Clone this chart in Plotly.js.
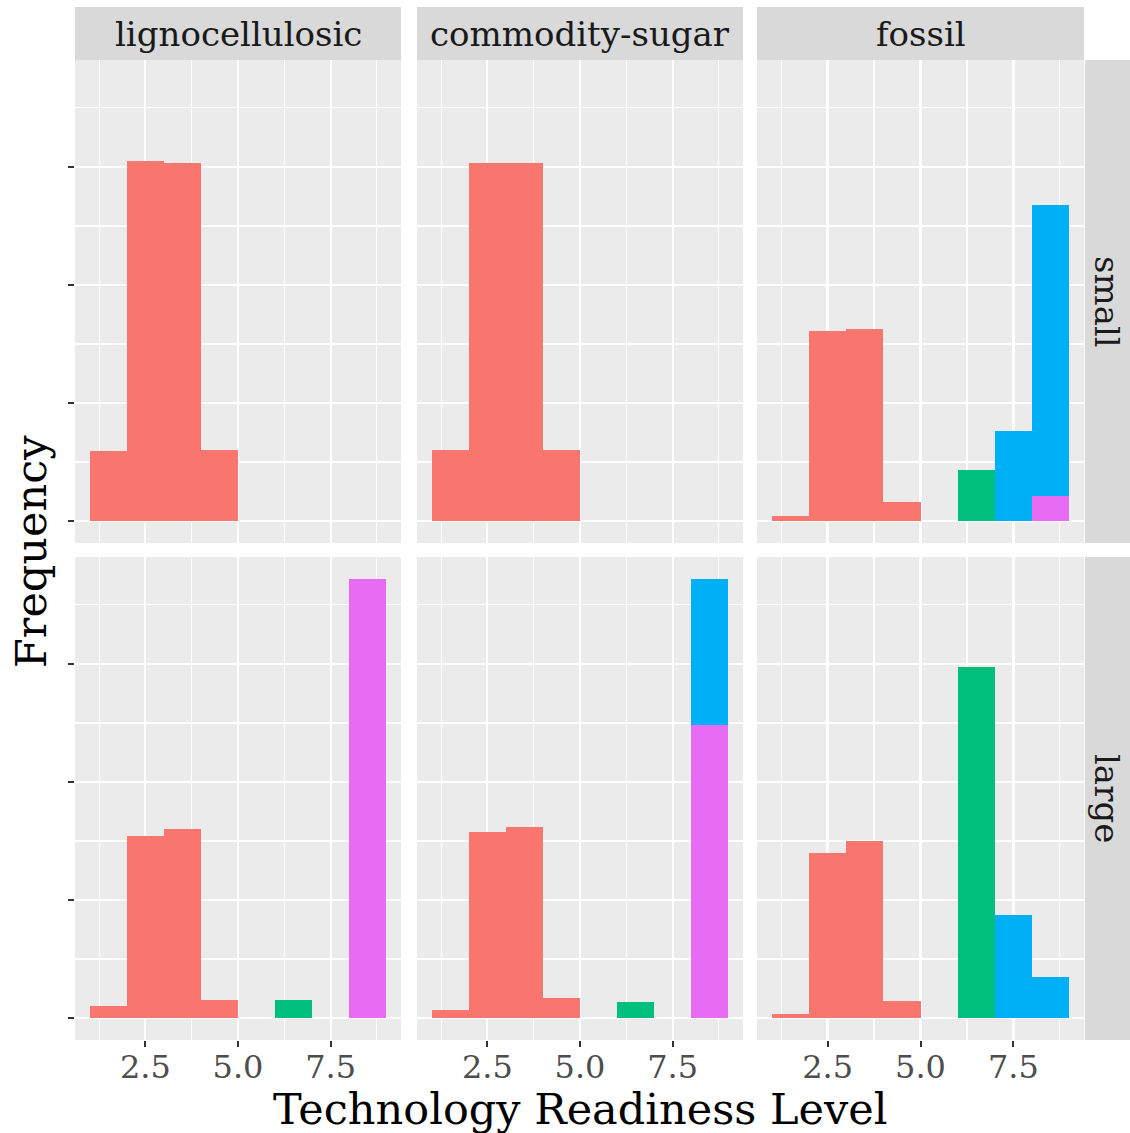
<!DOCTYPE html>
<html>
<head>
<meta charset="utf-8">
<script src="https://cdn.plot.ly/plotly-3.0.1.min.js"></script>
<style>html,body{margin:0;padding:0;background:#fff;}#chart{width:1130px;height:1133px;}</style>
</head>
<body>
<div id="chart"></div>
<script>
// ---- data ----
const binCenters = [1.5, 2.5, 3.5, 4.5, 5.5, 6.5, 7.5, 8.5];   // TRL bins of width 1
const xTicks = [2.5, 5.0, 7.5];
const xTickLabels = ['2.5', '5.0', '7.5'];
const columnLabels = ['lignocellulosic', 'commodity-sugar', 'fossil'];
const rowLabels = ['small', 'large'];
const groupNames = ['group 1', 'group 2', 'group 3', 'group 4', 'group 5'];
const groupColors = ['#F8766D', '#A3A500', '#00BF7D', '#00B0F6', '#E76BF3'];

// small scale row
const lignoSmall_g1 = [0.59, 3.05, 3.03, 0.60, 0, 0, 0, 0];
const sugarSmall_g1 = [0.60, 3.03, 3.03, 0.60, 0, 0, 0, 0];
const fossilSmall_g1 = [0.04, 1.61, 1.63, 0.16, 0, 0, 0, 0];
const fossilSmall_g3 = [0, 0, 0, 0, 0, 0.43, 0, 0];
const fossilSmall_g4 = [0, 0, 0, 0, 0, 0, 0.76, 2.47];
const fossilSmall_g5 = [0, 0, 0, 0, 0, 0, 0, 0.21];

// large scale row
const lignoLarge_g1 = [0.10, 1.54, 1.60, 0.15, 0, 0, 0, 0];
const lignoLarge_g3 = [0, 0, 0, 0, 0, 0.15, 0, 0];
const lignoLarge_g5 = [0, 0, 0, 0, 0, 0, 0, 3.72];
const sugarLarge_g1 = [0.07, 1.58, 1.62, 0.17, 0, 0, 0, 0];
const sugarLarge_g3 = [0, 0, 0, 0, 0, 0.14, 0, 0];
const sugarLarge_g4 = [0, 0, 0, 0, 0, 0, 0, 1.24];
const sugarLarge_g5 = [0, 0, 0, 0, 0, 0, 0, 2.48];
const fossilLarge_g1 = [0.035, 1.40, 1.50, 0.145, 0, 0, 0, 0];
const fossilLarge_g3 = [0, 0, 0, 0, 0, 2.97, 0, 0];
const fossilLarge_g4 = [0, 0, 0, 0, 0, 0, 0.87, 0.35];

// panel -> list of [groupIndex, values]; later groups are stacked at the bottom (ggplot order)
const panels = [
  [[0, lignoSmall_g1]],
  [[0, sugarSmall_g1]],
  [[0, fossilSmall_g1], [2, fossilSmall_g3], [3, fossilSmall_g4], [4, fossilSmall_g5]],
  [[0, lignoLarge_g1], [2, lignoLarge_g3], [4, lignoLarge_g5]],
  [[0, sugarLarge_g1], [2, sugarLarge_g3], [3, sugarLarge_g4], [4, sugarLarge_g5]],
  [[0, fossilLarge_g1], [2, fossilLarge_g3], [3, fossilLarge_g4]]
];

// ---- layout geometry ----
const W = 1130, H = 1133;
const colPx = [[75, 401], [417, 743], [757, 1084]];
const rowPx = [[60, 543], [557, 1040]];
const px = v => v / W;
const py = v => 1 - v / H;

const font = 'DejaVu Serif, serif';
const traces = [];
const layout = {
  width: W, height: H,
  margin: {l: 0, r: 0, t: 0, b: 0},
  paper_bgcolor: '#FFFFFF',
  plot_bgcolor: '#EBEBEB',
  barmode: 'stack',
  bargap: 0,
  showlegend: false,
  font: {family: font},
  shapes: [],
  annotations: []
};

for (let r = 0; r < 2; r++) {
  for (let c = 0; c < 3; c++) {
    const i = r * 3 + c;
    const n = i + 1;
    const xa = 'x' + (n === 1 ? '' : n), ya = 'y' + (n === 1 ? '' : n);
    // stack: draw later groups first so they sit at the bottom
    const list = panels[i].slice().sort((a, b) => b[0] - a[0]);
    list.forEach(([g, vals]) => {
      traces.push({
        type: 'bar', x: binCenters, y: vals, width: 1,
        name: groupNames[g], xaxis: xa, yaxis: ya,
        marker: {color: groupColors[g], line: {width: 0}},
        hoverinfo: 'x+y+name'
      });
    });
    layout['xaxis' + (n === 1 ? '' : n)] = {
      domain: [px(colPx[c][0]), px(colPx[c][1])],
      anchor: ya, range: [0.6, 9.4],
      tickmode: 'array', tickvals: xTicks, ticktext: xTickLabels,
      showticklabels: r === 1,
      ticks: r === 1 ? 'outside' : '', ticklen: 6, tickwidth: 2, tickcolor: '#333333',
      ticklabelstandoff: -7,
      tickfont: {family: font, size: 32, color: '#4D4D4D'},
      showgrid: true, gridcolor: '#FFFFFF', gridwidth: 2.2,
      minor: {tickmode: 'array', tickvals: [1.25, 3.75, 6.25, 8.75], showgrid: true, gridcolor: '#FFFFFF', gridwidth: 1.1, ticks: ''},
      zeroline: false, showline: false, fixedrange: true
    };
    layout['yaxis' + (n === 1 ? '' : n)] = {
      domain: [py(rowPx[r][1]), py(rowPx[r][0])],
      anchor: xa, range: [-0.186, 3.906],
      tickmode: 'array', tickvals: [0, 1, 2, 3],
      showticklabels: false,
      ticks: c === 0 ? 'outside' : '', ticklen: 6, tickwidth: 2, tickcolor: '#333333',
      showgrid: true, gridcolor: '#FFFFFF', gridwidth: 2.2,
      minor: {tickmode: 'array', tickvals: [0.5, 1.5, 2.5, 3.5], showgrid: true, gridcolor: '#FFFFFF', gridwidth: 1.1, ticks: ''},
      zeroline: false, showline: false, fixedrange: true
    };
  }
}

// column strips
for (let c = 0; c < 3; c++) {
  layout.shapes.push({type: 'rect', xref: 'paper', yref: 'paper', layer: 'below',
    x0: px(colPx[c][0]), x1: px(colPx[c][1]), y0: py(60), y1: py(7),
    fillcolor: '#D9D9D9', line: {width: 0}});
  layout.annotations.push({xref: 'paper', yref: 'paper', showarrow: false,
    x: px((colPx[c][0] + colPx[c][1]) / 2), y: py(33.5), xanchor: 'center', yanchor: 'middle',
    text: columnLabels[c], font: {family: font, size: 34, color: '#1A1A1A'}});
}
// row strips
for (let r = 0; r < 2; r++) {
  layout.shapes.push({type: 'rect', xref: 'paper', yref: 'paper', layer: 'below',
    x0: px(1085), x1: 1, y0: py(rowPx[r][1]), y1: py(rowPx[r][0]),
    fillcolor: '#D9D9D9', line: {width: 0}});
  layout.annotations.push({xref: 'paper', yref: 'paper', showarrow: false,
    x: px(1107.5), y: py((rowPx[r][0] + rowPx[r][1]) / 2), xanchor: 'center', yanchor: 'middle',
    textangle: 90, text: rowLabels[r], font: {family: font, size: 34, color: '#1A1A1A'}});
}
// axis titles
layout.annotations.push({xref: 'paper', yref: 'paper', showarrow: false,
  x: px(579.5), y: py(1109), xanchor: 'center', yanchor: 'middle',
  text: 'Technology Readiness Level', font: {family: font, size: 43, color: '#000000'}});
layout.annotations.push({xref: 'paper', yref: 'paper', showarrow: false,
  x: px(31), y: py(552), xanchor: 'center', yanchor: 'middle', textangle: -90,
  text: 'Frequency', font: {family: font, size: 43, color: '#000000'}});

Plotly.newPlot('chart', traces, layout, {staticPlot: true, displayModeBar: false});
</script>
</body>
</html>
